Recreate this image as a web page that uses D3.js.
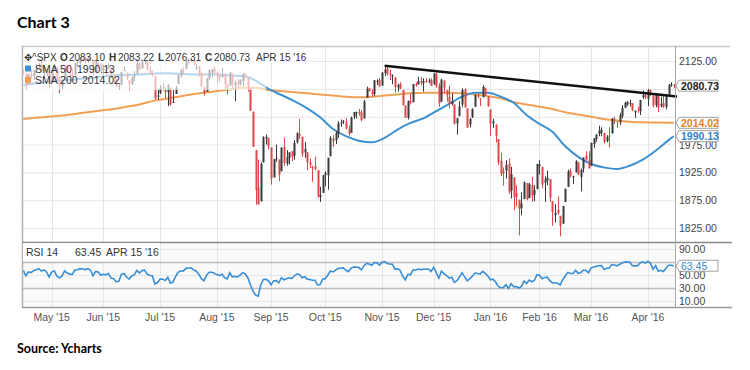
<!DOCTYPE html>
<meta charset="utf-8">
<style>
  body { margin: 0; background: #fff; }
  svg { display: block; }
  .ax text { font-family: "Liberation Sans", Arial, sans-serif; font-size: 10.5px; fill: #444; }
  .lbl { font-family: "Liberation Sans", Arial, sans-serif; font-size: 10.5px; fill: #333; }
</style>
<body>
<svg width="750" height="370"></svg>
<script src="https://d3js.org/d3.v7.min.js"></script>
<script>

// ^SPX daily, Apr 16 2015 .. Apr 15 2016 (one value per trading day)
var opens = [
  2105,2102,2084,2102,2098,2107,2114,2119,2109,2112,2106,
  2088,2110,2113,2091,2079,2092,2116,2102,2100,2100,2122,2121,2129,2128,2125,2130,2125,2105,2122,2120,
  2108,2110,2111,2112,2095,2092,2079,2082,2107,2104,2091,2084,2097,2102,2121,2112,2123,2124,2109,2102,2098,2061,
  2067,2078,2073,2069,2077,2050,2066,2084,2099,2109,2111,2127,2127,2127,2114,2115,2103,2078,2070,2094,2104,2111,
  2104,2098,2096,2100,2082,2081,2102,2081,2087,2083,2089,2101,2095,2077,2034,1965,1898,1873,1943,1986,1987,
  1970,1916,1950,1948,1927,1971,1941,1951,1963,1955,1979,1995,1989,1961,1961,1943,1935,1936,1929,1881,1888,
  1920,1920,1954,1986,1983,1994,2014,2016,2015,2003,1996,2025,2031,2033,2033,2022,2059,2076,2069,2066,2089,2091,
  2081,2103,2111,2102,2099,2096,2078,2084,2073,2045,2023,2054,2051,2084,2083,2089,2085,2089,2089,2091,
  2083,2101,2081,2052,2090,2073,2061,2048,2047,2013,2026,2047,2074,2040,2011,2024,2043,2063,2058,2060,2077,2061,
  2038,2013,2011,1985,1946,1927,1928,1941,1892,1916,1888,1876,1861,1877,1906,1879,1902,1885,1895,
  1936,1935,1907,1911,1913,1873,1848,1858,1847,1833,1872,1899,1928,1916,1925,1943,1917,1932,1955,1947,
  1937,1976,1985,1994,1996,1996,1981,1991,1995,2020,2016,2015,2026,2041,2047,2049,2049,2033,2038,2035,2060,2063,
  2057,2073,2063,2046,2063,2045,2050,2043,2065,2082,2083.10
];
var highs = [
  2111,2102,2103,2109,2109,2120,2121,2126,2117,2113,2106,
  2108,2120,2115,2098,2092,2117,2117,2105,2111,2121,2126,2132,2134,2133,2134,2132,2127,2126,2122,2121,
  2118,2117,2121,2113,2101,2094,2086,2106,2115,2104,2091,2097,2107,2127,2122,2127,2126,2125,2116,2108,2098,2075,
  2082,2085,2078,2083,2077,2074,2081,2100,2111,2115,2126,2128,2132,2128,2120,2117,2106,2078,2095,2110,2111,2115,
  2106,2102,2113,2103,2083,2105,2102,2090,2093,2092,2103,2103,2097,2077,2034,1965,1948,1943,1990,1993,1987,
  1970,1949,1975,1948,1970,1988,1965,1961,1963,1983,1997,2021,1989,1980,1961,1950,1937,1953,1929,1899,1920,
  1927,1951,1990,1992,1999,2017,2020,2019,2022,2009,2025,2033,2034,2039,2037,2055,2079,2077,2074,2091,2092,2095,
  2105,2116,2115,2109,2101,2096,2084,2087,2073,2045,2054,2067,2084,2087,2097,2096,2094,2094,2094,2094,
  2103,2104,2085,2093,2090,2073,2081,2067,2047,2023,2053,2076,2076,2040,2023,2040,2065,2067,2058,2082,2077,2062,
  2038,2021,2011,1985,1960,1934,1947,1950,1935,1916,1902,1876,1889,1909,1906,1906,1917,1902,1940,
  1947,1935,1918,1928,1913,1873,1868,1882,1847,1865,1896,1930,1932,1919,1947,1943,1932,1952,1963,1963,
  1978,1986,1993,2009,2006,1996,1992,2006,2022,2025,2016,2032,2046,2052,2053,2056,2049,2036,2043,2055,2072,2068,
  2075,2074,2063,2067,2063,2061,2063,2066,2084,2087,2083.22
];
var lows = [
  2100,2073,2084,2094,2091,2104,2112,2107,2094,2097,2077,
  2087,2109,2089,2067,2074,2092,2105,2085,2096,2100,2115,2119,2124,2120,2122,2126,2100,2104,2112,2103,
  2101,2099,2110,2094,2086,2079,2073,2082,2107,2091,2072,2082,2089,2102,2109,2112,2119,2108,2101,2097,2056,2056,
  2066,2072,2058,2044,2045,2050,2066,2084,2095,2102,2111,2119,2124,2117,2109,2097,2078,2063,2070,2091,2095,2102,
  2085,2088,2096,2075,2065,2081,2077,2053,2077,2081,2079,2095,2070,2036,1971,1867,1867,1873,1943,1975,1966,
  1903,1916,1944,1909,1927,1937,1937,1939,1945,1948,1977,1985,1953,1951,1929,1933,1908,1929,1879,1872,1888,
  1900,1894,1954,1971,1976,1987,2007,2012,2002,1991,1996,2021,2022,2027,2017,2022,2059,2070,2061,2062,2082,2079,
  2081,2098,2099,2091,2083,2068,2070,2075,2045,2023,2020,2047,2051,2079,2083,2081,2070,2086,2085,2080,
  2083,2077,2043,2052,2067,2052,2040,2045,2011,1993,2026,2042,2041,2005,2006,2023,2043,2059,2044,2060,2062,2043,
  1990,2005,1979,1938,1918,1901,1914,1886,1878,1857,1864,1812,1848,1877,1875,1879,1872,1873,1895,
  1921,1897,1872,1902,1872,1829,1835,1849,1810,1833,1872,1899,1916,1904,1925,1920,1891,1925,1946,1932,
  1937,1969,1980,1990,1990,1977,1979,1970,1995,2012,2005,2010,2022,2041,2044,2043,2035,2023,2032,2028,2057,2057,
  2044,2062,2042,2042,2033,2042,2041,2038,2065,2079,2076.31
];
var closes = [
  2104.99,2081.18,2100.40,2097.29,2107.96,2112.93,2117.69,2108.92,2114.76,2106.85,2085.51,
  2108.29,2114.49,2089.46,2080.15,2088.00,2116.10,2105.33,2099.12,2098.48,2121.10,2122.73,2129.20,2127.83,2125.85,2130.82,2126.06,2104.20,2123.48,2120.79,2107.39,
  2111.73,2109.60,2114.07,2095.84,2092.83,2079.28,2080.15,2105.20,2108.86,2094.11,2084.43,2096.29,2100.44,2121.24,2109.99,2122.85,2124.20,2108.58,2102.31,2101.49,2057.64,2063.11,
  2077.42,2076.78,2068.76,2081.34,2046.68,2051.31,2076.62,2099.60,2108.95,2107.40,2124.29,2126.64,2128.28,2119.21,2114.15,2102.15,2079.65,2067.64,2093.25,2108.57,2108.63,2103.84,
  2098.04,2093.32,2099.84,2083.56,2077.57,2104.18,2084.07,2086.05,2083.39,2091.54,2102.44,2096.92,2079.61,2035.73,1970.89,1893.21,1867.61,1940.51,1987.66,1988.87,1972.18,
  1913.85,1948.86,1951.13,1921.22,1969.41,1942.04,1952.29,1961.05,1953.03,1978.09,1995.31,1990.20,1958.03,1966.97,1942.74,1938.76,1932.24,1931.34,1881.77,1884.09,1920.03,
  1923.82,1951.36,1987.05,1979.92,1995.83,2013.43,2014.89,2017.46,2003.69,1994.24,2023.86,2033.11,2033.66,2030.77,2018.94,2052.51,2075.15,2071.18,2065.89,2090.35,2089.41,2079.36,
  2104.05,2109.79,2102.31,2099.93,2099.20,2078.58,2081.72,2075.00,2045.97,2023.04,2053.19,2050.44,2083.58,2081.24,2089.17,2086.59,2089.14,2088.87,2090.11,2080.41,
  2102.63,2079.51,2049.62,2091.69,2077.07,2063.59,2047.62,2052.23,2012.37,2021.94,2043.41,2073.07,2041.89,2005.55,2021.15,2038.97,2064.29,2060.99,2056.50,2078.36,2063.36,2043.94,
  2012.66,2016.71,1990.26,1943.09,1922.03,1923.67,1938.68,1890.28,1921.84,1880.33,1881.33,1859.33,1868.99,1906.90,1877.08,1903.63,1882.95,1893.36,1940.24,
  1939.38,1903.03,1912.53,1915.45,1880.05,1853.44,1852.21,1851.86,1829.08,1864.78,1895.58,1926.82,1917.83,1917.78,1945.50,1921.27,1929.80,1951.70,1948.05,1932.23,
  1978.35,1986.45,1993.40,1999.99,2001.76,1979.26,1989.26,1989.57,2022.19,2019.64,2015.93,2027.22,2040.59,2049.58,2051.60,2049.80,2036.71,2035.94,2037.05,2055.01,2063.95,2059.74,
  2072.78,2066.13,2045.17,2066.66,2041.91,2047.60,2041.99,2061.72,2082.42,2082.78,2080.73
];
// closes before the window, only used to warm up the RSI
var priorCloses = [2081.19,2074.28,2099.50,2089.27,2108.10,2104.42,2091.50,2061.05,2056.15,2061.02,2086.24,
  2067.89,2059.69,2066.96,2080.62,2076.33,2081.90,2091.18,2102.06,2092.43,2095.84,2106.63];

// moving averages, every 5th trading day
var smaIdx = [0,5,10,15,20,25,30,35,40,45,50,55,60,65,70,75,80,85,90,95,100,105,110,115,120,125,
  130,135,140,145,150,155,160,165,170,175,180,185,190,195,200,205,210,215,220,225,230,235,240,245,250,252];
var sma50 = [2082,2085,2088,2090,2092,2094,2097,2099,2100,2101,2102,2103,2102,2101,2101,2101,2099,2098,2090,2075,
  2064,2053,2040,2024,2003,1990,1982,1979,1987,2002,2014,2022,2035,2048,2061,2068,2068,2061,2050,2028,
  2012,1998,1972,1953,1940,1934,1931,1937,1948,1964,1983,1990.13];
var sma200 = [2021,2023,2025,2027,2030,2033,2036,2039,2043,2047,2053,2057,2061,2065,2068,2071,2074,2077,2077,2073,
  2071,2069,2067,2065,2063,2061,2060,2061,2063,2065,2067,2068,2068,2068,2067,2065,2062,2058,2051,2047,
  2043,2039,2033,2029,2025,2021,2018,2016,2015,2014.5,2014.2,2014.02];

// drawn resistance line (from the Nov 3 high)
var trendIdx = [140, 253.3];
var trendVal = [2116.5, 2061.5];

// month labels and the trading-day index where each month starts
var monthLabels = ["May '15","Jun '15","Jul '15","Aug '15","Sep '15","Oct '15","Nov '15","Dec '15","Jan '16","Feb '16","Mar '16","Apr '16"];
var monthIdx = [11,31,53,75,96,117,139,159,181,200,220,242];

var priceTicks = [1825,1875,1925,1975,2025,2075,2125];
var rsiTicks = [10,30,50,70,90];

// Wilder RSI(14)
function rsi(all, n) {
  var out = [], g = 0, l = 0;
  for (var k = 1; k <= n; k++) { var d = all[k] - all[k-1]; if (d > 0) g += d; else l -= d; }
  g /= n; l /= n;
  out[n] = 100 - 100 / (1 + g / l);
  for (var k = n + 1; k < all.length; k++) {
    var d = all[k] - all[k-1];
    g = (g * (n - 1) + Math.max(d, 0)) / n;
    l = (l * (n - 1) + Math.max(-d, 0)) / n;
    out[k] = 100 - 100 / (1 + g / l);
  }
  return out;
}
var rsiAll = rsi(priorCloses.concat(closes), 14);
var rsiVals = closes.map(function(c, i) { return rsiAll[i + priorCloses.length]; });

var svg = d3.select("svg");
var L = 22, R = 675, pTop = 46, pBot = 242, rTop = 242, rBot = 307;

var x = d3.scaleLinear().domain([-0.5, closes.length - 0.5]).range([L, R]);
var y = d3.scaleLinear().domain([1800, 2152]).range([pBot, pTop]);
var yr = d3.scaleLinear().domain([0, 100]).range([rBot, rTop]);
var last = closes.length - 1;
var f2 = d3.format(".2f");

// titles
svg.append("text").attr("x", 17).attr("y", 28)
  .style("font-family", "Lato, 'Open Sans', sans-serif").style("font-weight", "bold").style("font-size", "16px")
  .text("Chart 3");
svg.append("text").attr("x", 17).attr("y", 353)
  .style("font-family", "Lato, 'Open Sans', sans-serif").style("font-weight", "bold").style("font-size", "12.5px")
  .text("Source: Ycharts");

// panel backgrounds
svg.append("rect").attr("x", L).attr("y", rTop).attr("width", R - L).attr("height", rBot - rTop).attr("fill", "#fafafa");

// grid
var grid = svg.append("g");
grid.selectAll(".hg").data(priceTicks).enter().append("line")
  .attr("x1", L).attr("x2", R).attr("y1", function(d) { return y(d) + 0.5; }).attr("y2", function(d) { return y(d) + 0.5; })
  .attr("stroke", "#e6e6e6");
grid.selectAll(".vg").data(monthIdx).enter().append("line")
  .attr("x1", function(d) { return Math.round(x(d)) + 0.5; }).attr("x2", function(d) { return Math.round(x(d)) + 0.5; })
  .attr("y1", pTop).attr("y2", rBot)
  .attr("stroke", "#e6e6e6");
grid.selectAll(".rg").data(rsiTicks).enter().append("line")
  .attr("x1", L).attr("x2", R).attr("y1", function(d) { return Math.round(yr(d)) + 0.5; }).attr("y2", function(d) { return Math.round(yr(d)) + 0.5; })
  .attr("stroke", function(d) { return (d == 30 || d == 70) ? "#bdbdbd" : "#e6e6e6"; })
  .attr("stroke-width", function(d) { return (d == 30 || d == 70) ? 1.5 : 1; });

// SMA 200 and SMA 50
var smaLine = function(vals) {
  return d3.line().curve(d3.curveMonotoneX)
    .x(function(d, i) { return x(smaIdx[i]); }).y(function(d) { return y(d); })(vals);
};
svg.append("path").attr("d", smaLine(sma200)).attr("fill", "none").attr("stroke", "#f0a055").attr("stroke-width", 2);
svg.append("path").attr("d", smaLine(sma50)).attr("fill", "none").attr("stroke", "#3d90d0").attr("stroke-width", 2);

// candles
var idx = d3.range(closes.length);
var candle = svg.append("g").selectAll("g").data(idx).enter().append("g");
var col = function(i) { return closes[i] >= opens[i] ? "#3b3b3b" : "#e0474a"; };
candle.append("line")
  .attr("x1", function(i) { return Math.round(x(i)) + 0.5; }).attr("x2", function(i) { return Math.round(x(i)) + 0.5; })
  .attr("y1", function(i) { return y(highs[i]); }).attr("y2", function(i) { return y(lows[i]); })
  .attr("stroke", col).attr("stroke-width", 1);
candle.append("rect")
  .attr("x", function(i) { return Math.round(x(i)) - 0.5; }).attr("width", 2)
  .attr("y", function(i) { return y(Math.max(opens[i], closes[i])); })
  .attr("height", function(i) { return Math.max(1, Math.abs(y(opens[i]) - y(closes[i]))); })
  .attr("fill", col);

// trend line
svg.append("line")
  .attr("x1", x(trendIdx[0])).attr("y1", y(trendVal[0]))
  .attr("x2", x(trendIdx[1])).attr("y2", y(trendVal[1]))
  .attr("stroke", "#111").attr("stroke-width", 2.5);

// RSI line
svg.append("path")
  .attr("d", d3.line().x(function(d, i) { return x(i); }).y(function(d) { return yr(d); })(rsiVals))
  .attr("fill", "none").attr("stroke", "#3a8fd6").attr("stroke-width", 1.6);

// frame
var frame = svg.append("g").attr("fill", "none");
frame.append("line").attr("x1", L).attr("x2", 730).attr("y1", pTop + 0.5).attr("y2", pTop + 0.5).attr("stroke", "#c8c8c8").attr("stroke-width", 1.5);
frame.append("line").attr("x1", L + 0.5).attr("x2", L + 0.5).attr("y1", pTop).attr("y2", rBot).attr("stroke", "#b0b0b0").attr("stroke-width", 1.5);
frame.append("line").attr("x1", L).attr("x2", 732).attr("y1", rTop + 0.5).attr("y2", rTop + 0.5).attr("stroke", "#8a8a8a").attr("stroke-width", 1.5);
frame.append("line").attr("x1", L).attr("x2", 732).attr("y1", rBot + 0.5).attr("y2", rBot + 0.5).attr("stroke", "#9a9a9a").attr("stroke-width", 1.5);
frame.append("line").attr("x1", R + 0.5).attr("x2", R + 0.5).attr("y1", pTop).attr("y2", rBot).attr("stroke", "#a8a8a8").attr("stroke-width", 1);

// legend veil over the top-left of the price panel
svg.append("rect").attr("x", L + 1).attr("y", pTop + 1).attr("width", 243).attr("height", 43).attr("fill", "#fff").attr("opacity", 0.62);
svg.append("rect").attr("x", 265).attr("y", pTop + 1).attr("width", 40).attr("height", 16).attr("fill", "#fff").attr("opacity", 0.62);

// value callouts (they sit over the tick labels they hide)
var calls = [
  { v: closes[last], s: y, c: "#222", b: true },
  { v: sma200[sma200.length - 1], s: y, c: "#e8811f", b: true },
  { v: sma50[sma50.length - 1], s: y, c: "#2f86cc", b: true },
  { v: rsiVals[last], s: yr, c: "#2f86cc", b: false }
];
function hidden(scale, t) {
  return calls.some(function(c) { return c.s === scale && Math.abs(c.s(c.v) - scale(t)) < 7; });
}

// axes on the right
var pAxis = svg.append("g").attr("class", "ax");
pAxis.selectAll("text").data(priceTicks.filter(function(t) { return !hidden(y, t); })).enter().append("text")
  .attr("x", 679).attr("y", function(d) { return y(d) + 4; }).text(f2);
var rAxis = svg.append("g").attr("class", "ax");
rAxis.selectAll("text").data(rsiTicks.filter(function(t) { return !hidden(yr, t); })).enter().append("text")
  .attr("x", 679).attr("y", function(d) { return yr(d) + 4; }).text(f2);

// month labels
var xAxis = svg.append("g").attr("class", "ax");
xAxis.selectAll("text").data(monthIdx).enter().append("text")
  .attr("x", function(d) { return x(d); }).attr("y", 321).attr("text-anchor", "middle")
  .style("fill", "#555")
  .text(function(d, i) { return monthLabels[i]; });

calls.forEach(function(c) {
  var yc = c.s(c.v);
  var g = svg.append("g");
  g.append("path")
    .attr("d", "M" + (R + 1) + "," + yc + "L679," + (yc - 5.5) + "L718," + (yc - 5.5) + "L718," + (yc + 5.5) + "L679," + (yc + 5.5) + "Z")
    .attr("fill", "#fff").attr("stroke", "#a0a0a0").attr("stroke-width", 1);
  g.append("text").attr("x", 681).attr("y", yc + 4)
    .style("font-family", "'Liberation Sans', Arial, sans-serif").style("font-size", "10.5px")
    .style("font-weight", c.b ? "bold" : "normal").style("fill", c.c)
    .text(f2(c.v));
});

// legend text
var hdr = [
  ["\u2725", 24, false], ["^SPX", 32, false], ["O", 60, true], [f2(opens[last]), 69, false], ["H", 109, true], [f2(highs[last]), 118, false],
  ["L", 158, true], [f2(lows[last]), 165, false], ["C", 205, true], [f2(closes[last]), 214, false], ["APR 15 '16", 256, false]
];
svg.append("g").selectAll("text").data(hdr).enter().append("text").attr("class", "lbl")
  .attr("x", function(d) { return d[1]; }).attr("y", 61)
  .style("font-size", "10px")
  .style("font-weight", function(d) { return d[2] ? "bold" : "normal"; })
  .text(function(d) { return d[0]; });
svg.append("rect").attr("x", 25).attr("y", 65.5).attr("width", 6).attr("height", 6).attr("fill", "#3d90d0");
svg.append("text").attr("class", "lbl").attr("x", 35).attr("y", 72.5).text("SMA 50");
svg.append("text").attr("class", "lbl").attr("x", 77).attr("y", 72.5).text(f2(sma50[sma50.length - 1]));
svg.append("rect").attr("x", 25).attr("y", 77).attr("width", 6).attr("height", 6).attr("fill", "#f0a055");
svg.append("text").attr("class", "lbl").attr("x", 35).attr("y", 84).text("SMA 200");
svg.append("text").attr("class", "lbl").attr("x", 82).attr("y", 84).text(f2(sma200[sma200.length - 1]));

// RSI header
svg.append("rect").attr("x", L + 1).attr("y", rTop + 1).attr("width", 137).attr("height", 18).attr("fill", "#fff");
svg.append("text").attr("class", "lbl").attr("x", 26).attr("y", 256).text("RSI 14");
svg.append("text").attr("class", "lbl").attr("x", 75).attr("y", 256).text(f2(rsiVals[last]));
svg.append("text").attr("class", "lbl").attr("x", 106).attr("y", 256).text("APR 15 '16");

</script>
</body>
